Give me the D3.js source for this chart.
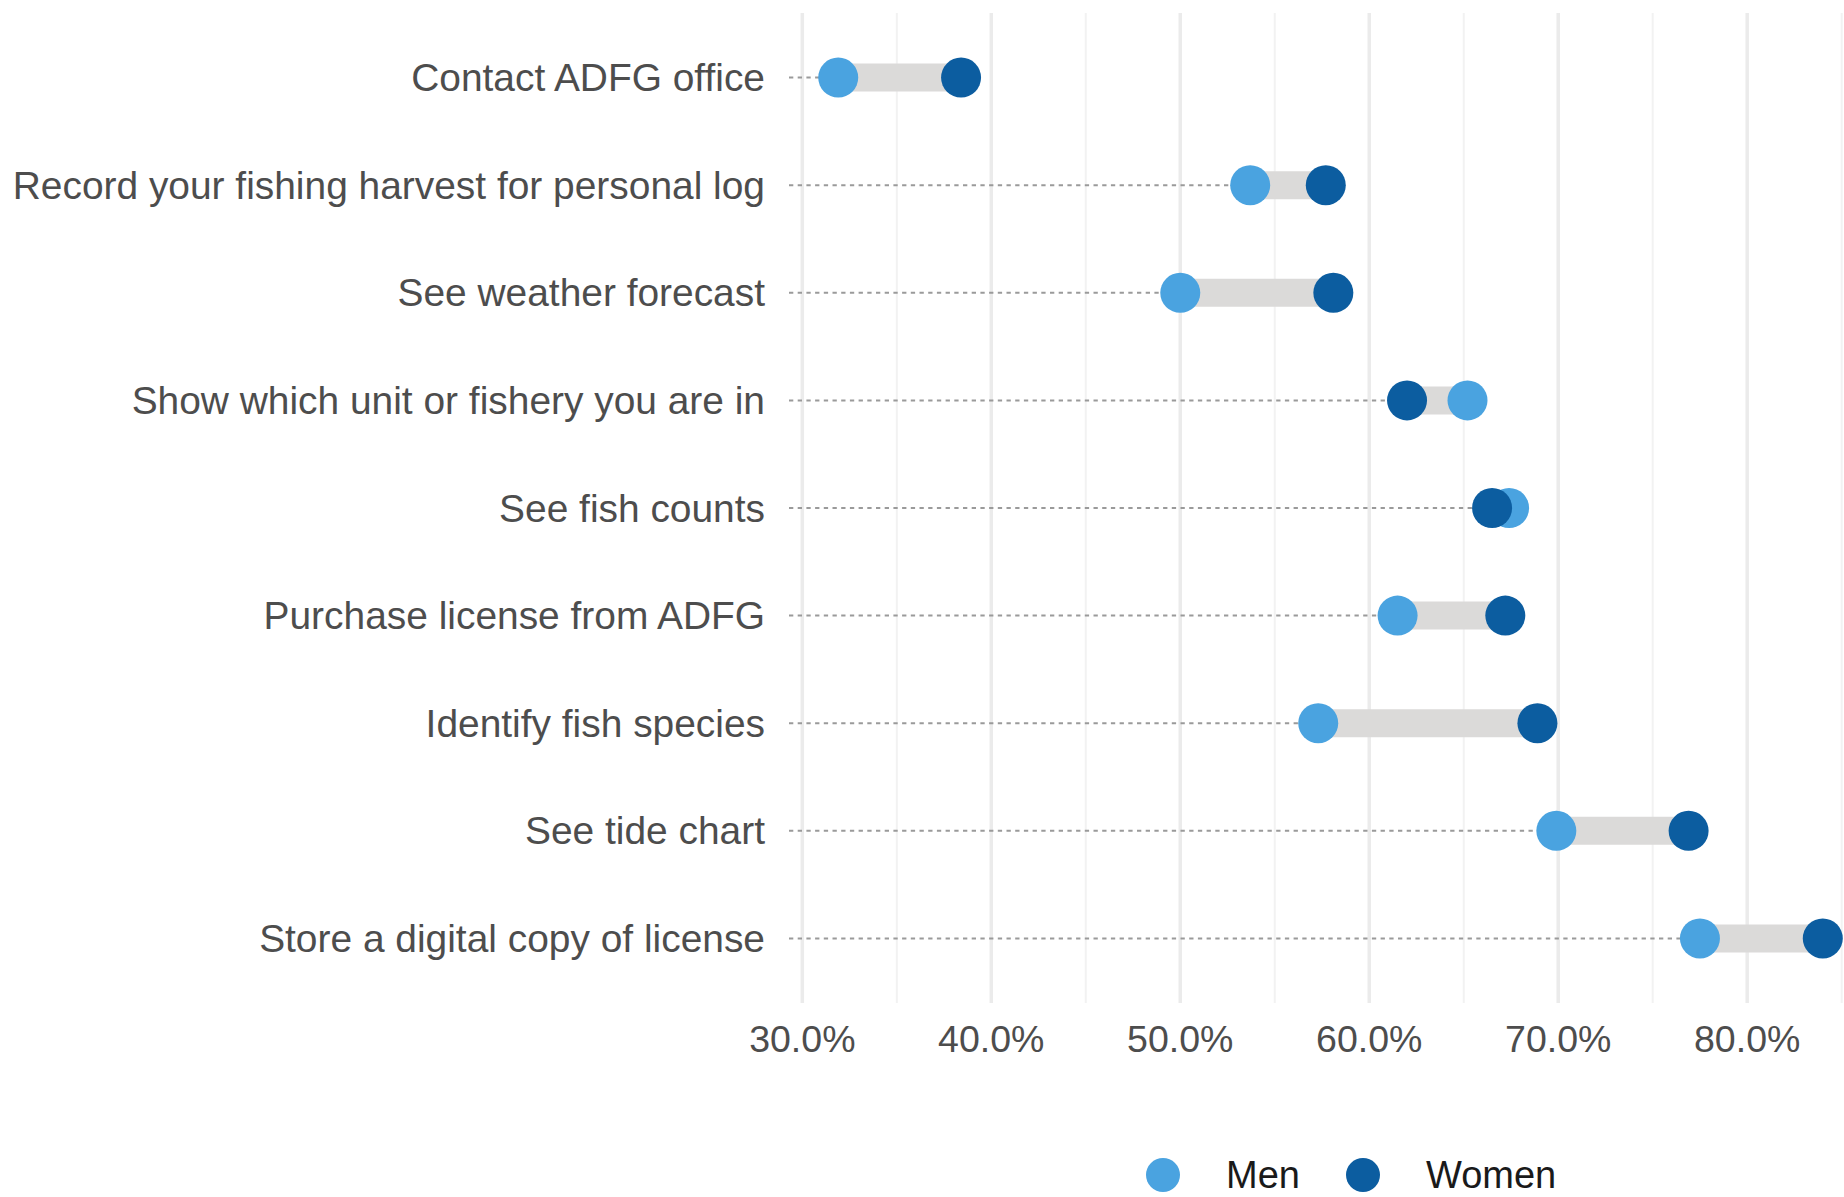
<!DOCTYPE html>
<html>
<head>
<meta charset="utf-8">
<script src="https://cdn.jsdelivr.net/npm/d3@7"></script>
<style>
  body { margin: 0; background: #fff; }
  svg { display: block; font-family: "Liberation Sans", Arial, sans-serif; }
</style>
</head>
<body>
<div class="chart"></div>
<script>
// data (share of respondents)
const features = [
  'Contact ADFG office',
  'Record your fishing harvest for personal log',
  'See weather forecast',
  'Show which unit or fishery you are in',
  'See fish counts',
  'Purchase license from ADFG',
  'Identify fish species',
  'See tide chart',
  'Store a digital copy of license'
]
const men = [0.319, 0.537, 0.500, 0.652, 0.674, 0.615, 0.573, 0.699, 0.775]
const women = [0.384, 0.577, 0.581, 0.620, 0.665, 0.672, 0.689, 0.769, 0.840]
const groups = ['Men', 'Women']
const groupColors = ['#4AA3E0', '#0C5DA0']
const majorTicks = [0.3, 0.4, 0.5, 0.6, 0.7, 0.8]
const minorTicks = [0.35, 0.45, 0.55, 0.65, 0.75, 0.85]

const width = 1844
const height = 1197
const panel = { left: 789, right: 1872, top: 13, bottom: 1003 }

const rows = features.map((f, i) => ({ feature: f, men: men[i], women: women[i] }))

// ggplot style 5% expansion around the data
const lo = d3.min([...men, ...women])
const hi = d3.max([...men, ...women])
const pad = (hi - lo) * 0.05
const x = d3.scaleLinear().domain([lo - pad, hi + pad]).range([panel.left, panel.right])
const y = d3.scalePoint().domain(features).range([panel.top, panel.bottom]).padding(0.6)
const color = d3.scaleOrdinal().domain(groups).range(groupColors)

const svg = d3.select('.chart').append('svg')
  .attr('width', width)
  .attr('height', height)
  .attr('viewBox', [0, 0, width, height])

svg.append('rect').attr('width', width).attr('height', height).attr('fill', '#fff')

// 网格线
const grid = svg.append('g').attr('class', 'grid')
grid.selectAll('line.minor').data(minorTicks).join('line')
  .attr('class', 'minor')
  .attr('x1', d => x(d)).attr('x2', d => x(d))
  .attr('y1', panel.top).attr('y2', panel.bottom)
  .attr('stroke', '#F2F2F2').attr('stroke-width', 2)
grid.selectAll('line.major').data(majorTicks).join('line')
  .attr('class', 'major')
  .attr('x1', d => x(d)).attr('x2', d => x(d))
  .attr('y1', panel.top).attr('y2', panel.bottom)
  .attr('stroke', '#EBEBEB').attr('stroke-width', 3.5)

// dotted leader from the panel edge to the first point
svg.append('g').selectAll('line').data(rows).join('line')
  .attr('x1', panel.left)
  .attr('x2', d => x(Math.min(d.men, d.women)))
  .attr('y1', d => y(d.feature)).attr('y2', d => y(d.feature))
  .attr('stroke', '#9A9A9A')
  .attr('stroke-width', 2)
  .attr('stroke-dasharray', '4.3,4.4')

// gap bar between men and women
svg.append('g').selectAll('line').data(rows).join('line')
  .attr('x1', d => x(d.men))
  .attr('x2', d => x(d.women))
  .attr('y1', d => y(d.feature)).attr('y2', d => y(d.feature))
  .attr('stroke', '#DBDAD9')
  .attr('stroke-width', 28)

// points
svg.append('g').selectAll('circle').data(rows).join('circle')
  .attr('cx', d => x(d.men)).attr('cy', d => y(d.feature))
  .attr('r', 20).attr('fill', color('Men'))
svg.append('g').selectAll('circle').data(rows).join('circle')
  .attr('cx', d => x(d.women)).attr('cy', d => y(d.feature))
  .attr('r', 20).attr('fill', color('Women'))

// y labels
svg.append('g').selectAll('text').data(features).join('text')
  .attr('x', 765)
  .attr('y', d => y(d))
  .attr('dy', '0.35em')
  .attr('text-anchor', 'end')
  .attr('font-size', 38.9)
  .attr('fill', '#4D4D4D')
  .text(d => d)

// x tick labels
const fmt = d3.format('.1%')
svg.append('g').selectAll('text').data(majorTicks).join('text')
  .attr('x', d => x(d))
  .attr('y', 1039)
  .attr('dy', '0.35em')
  .attr('text-anchor', 'middle')
  .attr('font-size', 37.5)
  .attr('fill', '#4D4D4D')
  .text(d => fmt(d))

// legend
const legendX = [1163, 1363]
const legend = svg.append('g').selectAll('g').data(groups).join('g')
  .attr('transform', (d, i) => `translate(${legendX[i]},1175)`)
legend.append('circle').attr('r', 17).attr('fill', d => color(d))
legend.append('text')
  .attr('x', 63)
  .attr('dy', '0.35em')
  .attr('font-size', 38)
  .attr('fill', '#1A1A1A')
  .text(d => d)
</script>
</body>
</html>
